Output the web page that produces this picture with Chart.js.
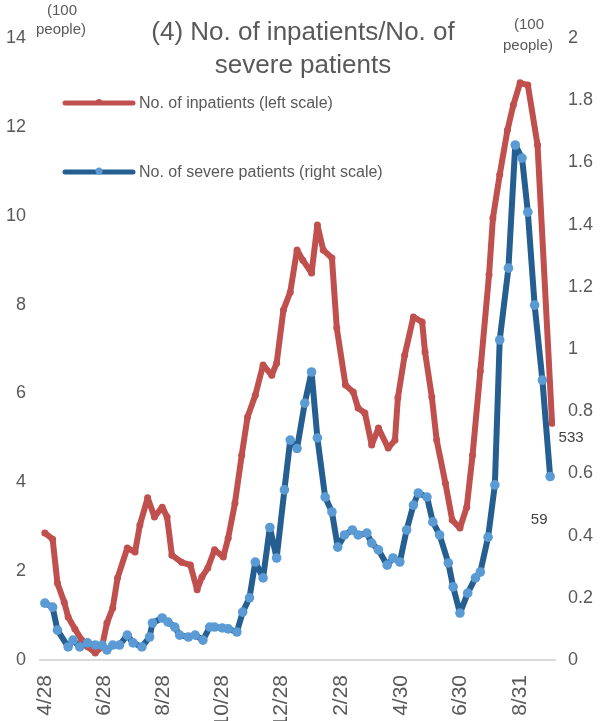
<!DOCTYPE html>
<html>
<head>
<meta charset="utf-8">
<script src="https://cdn.jsdelivr.net/npm/chart.js@4.4.1/dist/chart.umd.min.js"></script>
<style>
  body { margin: 0; background: #fff; }
  #chart { display: block; }
</style>
</head>
<body>
<canvas id="chart" width="614" height="721"></canvas>
<script>
// x positions are days since 4/28
const tickDays = [0, 61, 122, 183, 244, 306, 367, 428, 490];
const tickLabels = ['4/28', '6/28', '8/28', '10/28', '12/28', '2/28', '4/30', '6/30', '8/31'];

// inpatients, hundreds of people (left scale)
const inpatientDays = [0, 8, 13, 20, 24, 31, 38, 44, 52, 59, 64, 70, 75, 85, 93, 98, 106, 113, 121, 126,
  131, 141, 150, 157, 162, 168, 175, 184, 189, 196, 203, 209, 217, 225, 234, 239, 246, 253, 260, 266,
  275, 281, 287, 296, 301, 310, 318, 323, 330, 337, 344, 354, 361, 364, 371, 380, 389, 392, 399, 404,
  413, 420, 428, 435, 441, 449, 458, 462, 469, 477, 483, 490, 498, 508, 523];
const inpatients = [2.86, 2.72, 1.73, 1.3, 0.97, 0.7, 0.45, 0.3, 0.16, 0.3, 0.83, 1.17, 1.85, 2.52, 2.43, 3.04, 3.65, 3.22, 3.44, 3.22,
  2.36, 2.2, 2.14, 1.58, 1.87, 2.07, 2.48, 2.32, 2.74, 3.53, 4.61, 5.47, 5.96, 6.64, 6.41, 6.68, 7.88, 8.28, 9.23, 9.0,
  8.71, 9.79, 9.23, 9.05, 7.47, 6.19, 6.03, 5.67, 5.56, 4.84, 5.22, 4.77, 4.95, 5.9, 6.86, 7.72, 7.61, 6.93, 5.92, 4.95,
  3.98, 3.15, 2.97, 3.44, 4.61, 6.5, 8.67, 9.95, 10.92, 11.93, 12.49, 12.99, 12.94, 11.59, 5.33];

// severe patients, hundreds of people (right scale)
const severeDays = [0, 8, 13, 24, 29, 36, 44, 52, 59, 64, 70, 77, 85, 91, 100, 108, 111, 121, 127, 134,
  139, 148, 155, 163, 170, 175, 183, 189, 198, 204, 211, 217, 225, 232, 239, 247, 253, 260, 268, 275,
  281, 289, 296, 302, 309, 317, 323, 332, 337, 344, 353, 359, 366, 373, 380, 385, 394, 400, 407, 416,
  421, 428, 436, 444, 449, 457, 464, 469, 478, 485, 492, 498, 505, 513, 521];
const severe = [0.183, 0.17, 0.096, 0.042, 0.064, 0.042, 0.055, 0.048, 0.048, 0.032, 0.048, 0.048, 0.08, 0.055, 0.042, 0.074, 0.119, 0.135, 0.122, 0.106,
  0.08, 0.074, 0.08, 0.064, 0.106, 0.106, 0.103, 0.1, 0.09, 0.154, 0.2, 0.315, 0.264, 0.426, 0.328, 0.547, 0.707, 0.68, 0.826, 0.926,
  0.714, 0.524, 0.476, 0.363, 0.402, 0.418, 0.402, 0.408, 0.376, 0.354, 0.305, 0.328, 0.315, 0.418, 0.498, 0.537, 0.524, 0.444, 0.402, 0.312,
  0.235, 0.151, 0.215, 0.264, 0.283, 0.395, 0.563, 1.029, 1.26, 1.656, 1.614, 1.44, 1.141, 0.9, 0.59];

const lastInpatientLabel = '533';
const lastSevereLabel = '59';

const RED = '#c0504d';
const BLUE = '#255e91';
const LIGHTBLUE = '#5b9bd5';
const GREY = '#595959';
const FONT = "'Liberation Sans', Arial, sans-serif";

function toPoints(xs, ys) {
  return xs.map(function (x, i) { return { x: x, y: ys[i] }; });
}

// title, units, legend and end labels drawn on top of the plot
const extraText = {
  id: 'extraText',
  afterDraw: function (chart) {
    const ctx = chart.ctx;
    ctx.save();
    ctx.fillStyle = GREY;
    ctx.textAlign = 'center';
    ctx.textBaseline = 'middle';

    ctx.font = '26px ' + FONT;
    ctx.fillText('(4) No. of inpatients/No. of', 303, 33);
    ctx.fillText('severe patients', 303, 66);

    ctx.font = '15px ' + FONT;
    ctx.fillText('(100', 62, 11);
    ctx.fillText('people)', 61, 30);
    ctx.fillText('(100', 529, 25);
    ctx.fillText('people)', 528, 46);

    // legend
    const items = [
      { y: 103, line: RED, dot: RED, r: 3, text: 'No. of inpatients (left scale)' },
      { y: 172, line: BLUE, dot: LIGHTBLUE, r: 3.5, text: 'No. of severe patients (right scale)' }
    ];
    items.forEach(function (it) {
      ctx.strokeStyle = it.line;
      ctx.lineWidth = 5;
      ctx.lineCap = 'round';
      ctx.beginPath();
      ctx.moveTo(65, it.y);
      ctx.lineTo(133, it.y);
      ctx.stroke();
      ctx.fillStyle = it.dot;
      ctx.beginPath();
      ctx.arc(99, it.y - 1, it.r, 0, Math.PI * 2);
      ctx.fill();
      ctx.fillStyle = GREY;
      ctx.textAlign = 'left';
      ctx.font = '16px ' + FONT;
      ctx.fillText(it.text, 139, it.y + 1);
    });

    // end value labels
    const xs = chart.scales.x;
    const xr = xs.getPixelForValue(inpatientDays[inpatientDays.length - 1]);
    const yr = chart.scales.yLeft.getPixelForValue(inpatients[inpatients.length - 1]);
    const xb = xs.getPixelForValue(severeDays[severeDays.length - 1]);
    const yb = chart.scales.yRight.getPixelForValue(severe[severe.length - 1]);
    ctx.fillStyle = '#404040';
    ctx.textAlign = 'center';
    ctx.font = '15px ' + FONT;
    ctx.fillText(lastInpatientLabel, xr + 19, yr + 15);
    ctx.fillText(lastSevereLabel, xb - 11, yb + 43);
    ctx.restore();
  }
};

new Chart(document.getElementById('chart'), {
  type: 'line',
  data: {
    datasets: [
      {
        label: 'No. of severe patients (right scale)',
        data: toPoints(severeDays, severe),
        yAxisID: 'yRight',
        borderColor: BLUE,
        borderWidth: 6,
        pointRadius: 4.8,
        pointBackgroundColor: LIGHTBLUE,
        pointBorderWidth: 0,
        order: 0
      },
      {
        label: 'No. of inpatients (left scale)',
        data: toPoints(inpatientDays, inpatients),
        yAxisID: 'yLeft',
        borderColor: RED,
        borderWidth: 6,
        pointRadius: 3.5,
        pointBackgroundColor: RED,
        pointBorderWidth: 0,
        order: 1
      }
    ]
  },
  options: {
    responsive: false,
    animation: false,
    devicePixelRatio: 1,
    layout: { padding: { top: 38, left: 0, right: 0, bottom: 0 } },
    plugins: {
      legend: { display: false },
      tooltip: { enabled: false }
    },
    elements: { line: { tension: 0, borderJoinStyle: 'round', borderCapStyle: 'round' } },
    scales: {
      x: {
        type: 'linear',
        min: -5,
        max: 526,
        afterBuildTicks: function (scale) {
          scale.ticks = tickDays.map(function (d) { return { value: d }; });
        },
        afterFit: function (scale) { scale.height = 61; },
        grid: { display: false, drawTicks: false },
        border: { display: true, color: '#d9d9d9', width: 2 },
        ticks: {
          autoSkip: false,
          maxRotation: 90,
          minRotation: 90,
          padding: 15,
          color: GREY,
          font: { family: FONT, size: 21 },
          callback: function (v) {
            const i = tickDays.indexOf(v);
            return i >= 0 ? tickLabels[i] : '';
          }
        }
      },
      yLeft: {
        position: 'left',
        min: 0,
        max: 14,
        afterFit: function (scale) { scale.width = 40; },
        grid: { display: false, drawTicks: false },
        border: { display: false },
        ticks: {
          stepSize: 2,
          padding: 14,
          color: GREY,
          font: { family: FONT, size: 18 }
        }
      },
      yRight: {
        position: 'right',
        min: 0,
        max: 2,
        afterFit: function (scale) { scale.width = 59; },
        grid: { display: false, drawTicks: false },
        border: { display: false },
        ticks: {
          stepSize: 0.2,
          padding: 13,
          color: GREY,
          font: { family: FONT, size: 18 },
          callback: function (v) { return String(+v.toFixed(1)); }
        }
      }
    }
  },
  plugins: [extraText]
});
</script>
</body>
</html>
